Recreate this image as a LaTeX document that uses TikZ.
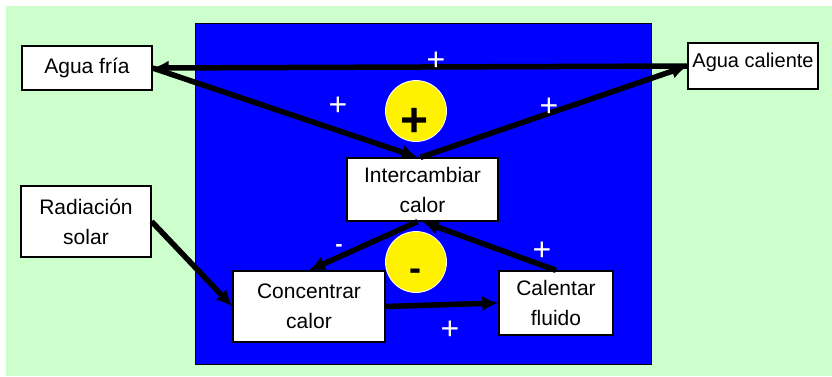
\documentclass[tikz,border=0pt]{standalone}
\usepackage{fontspec}
\setmainfont{Liberation Sans}
\usetikzlibrary{arrows.meta}
\definecolor{paleGreen}{HTML}{CCFFCC}
\definecolor{deepBlue}{HTML}{0000FF}
\tikzset{
  flowarrow/.style={-{Latex[length=16pt,width=15pt]}, line width=5.5pt},
  procbox/.style={draw, line width=1.3pt, fill=white, align=center, inner sep=0pt, font=\fontsize{21}{30}\selectfont},
  signlabel/.style={text=white, inner sep=0pt, font=\fontsize{32}{32}\selectfont},
  loopmark/.style={circle, draw=white, line width=0.8pt, fill=yellow, minimum size=61pt, inner sep=0pt}
}
\begin{document}
\begin{tikzpicture}[x=1pt, y=-1pt]
  \useasboundingbox (0,0) rectangle (832,376);
  \fill[paleGreen] (6,6) rectangle (832,376);
  \draw[fill=deepBlue, line width=0.8pt] (195,23) rectangle (651,364);
  % loop markers
  \node[loopmark] (gain) at (416,111) {};
  \node[loopmark] (damp) at (416,262) {};
  \node[inner sep=0pt, font=\bfseries\fontsize{48}{48}\selectfont] (gainsign) at (415,122) {+};
  \node[inner sep=0pt, font=\bfseries\fontsize{36}{36}\selectfont] (dampsign) at (415,275) {-};
  % boxes
  \node[procbox, minimum width=130pt, minimum height=44pt] (fria) at (87,68) {Agua fría};
  \node[procbox, minimum width=130pt, minimum height=46pt, text depth=11pt, font=\fontsize{20}{30}\selectfont] (caliente) at (753,66) {Agua caliente};
  \node[procbox, minimum width=130pt, minimum height=71pt] (radiacion) at (86,221.5) {Radiación\\solar};
  \node[procbox, minimum width=151pt, minimum height=63pt] (intercambiar) at (422.5,189.5) {Intercambiar\\calor};
  \node[procbox, minimum width=152pt, minimum height=71pt] (concentrar) at (309,306.5) {Concentrar\\calor};
  \node[procbox, minimum width=114pt, minimum height=64pt] (calentar) at (556,303) {Calentar\\fluido};
  % links
  \draw[flowarrow] (caliente.west) -- (fria.east);
  \draw[flowarrow] (fria.east) -- ([xshift=-5pt]intercambiar.north);
  \draw[flowarrow] ([xshift=-2pt]intercambiar.north) -- (caliente.west);
  \draw[flowarrow] (radiacion.east) -- (concentrar.west);
  \draw[flowarrow] ([xshift=-5pt]intercambiar.south) -- (concentrar.north);
  \draw[flowarrow] (calentar.north) -- (intercambiar.south);
  \draw[flowarrow] (concentrar.east) -- (calentar.west);
  % signs
  \node[signlabel] (s1) at (338,106) {+};
  \node[signlabel] (s2) at (436,61) {+};
  \node[signlabel] (s3) at (549,107) {+};
  \node[signlabel] (s4) at (542,251) {+};
  \node[signlabel] (s5) at (450,330) {+};
  \node[signlabel, font=\bfseries\fontsize{22}{22}\selectfont] (s6) at (339,248) {-};
\end{tikzpicture}
\end{document}
